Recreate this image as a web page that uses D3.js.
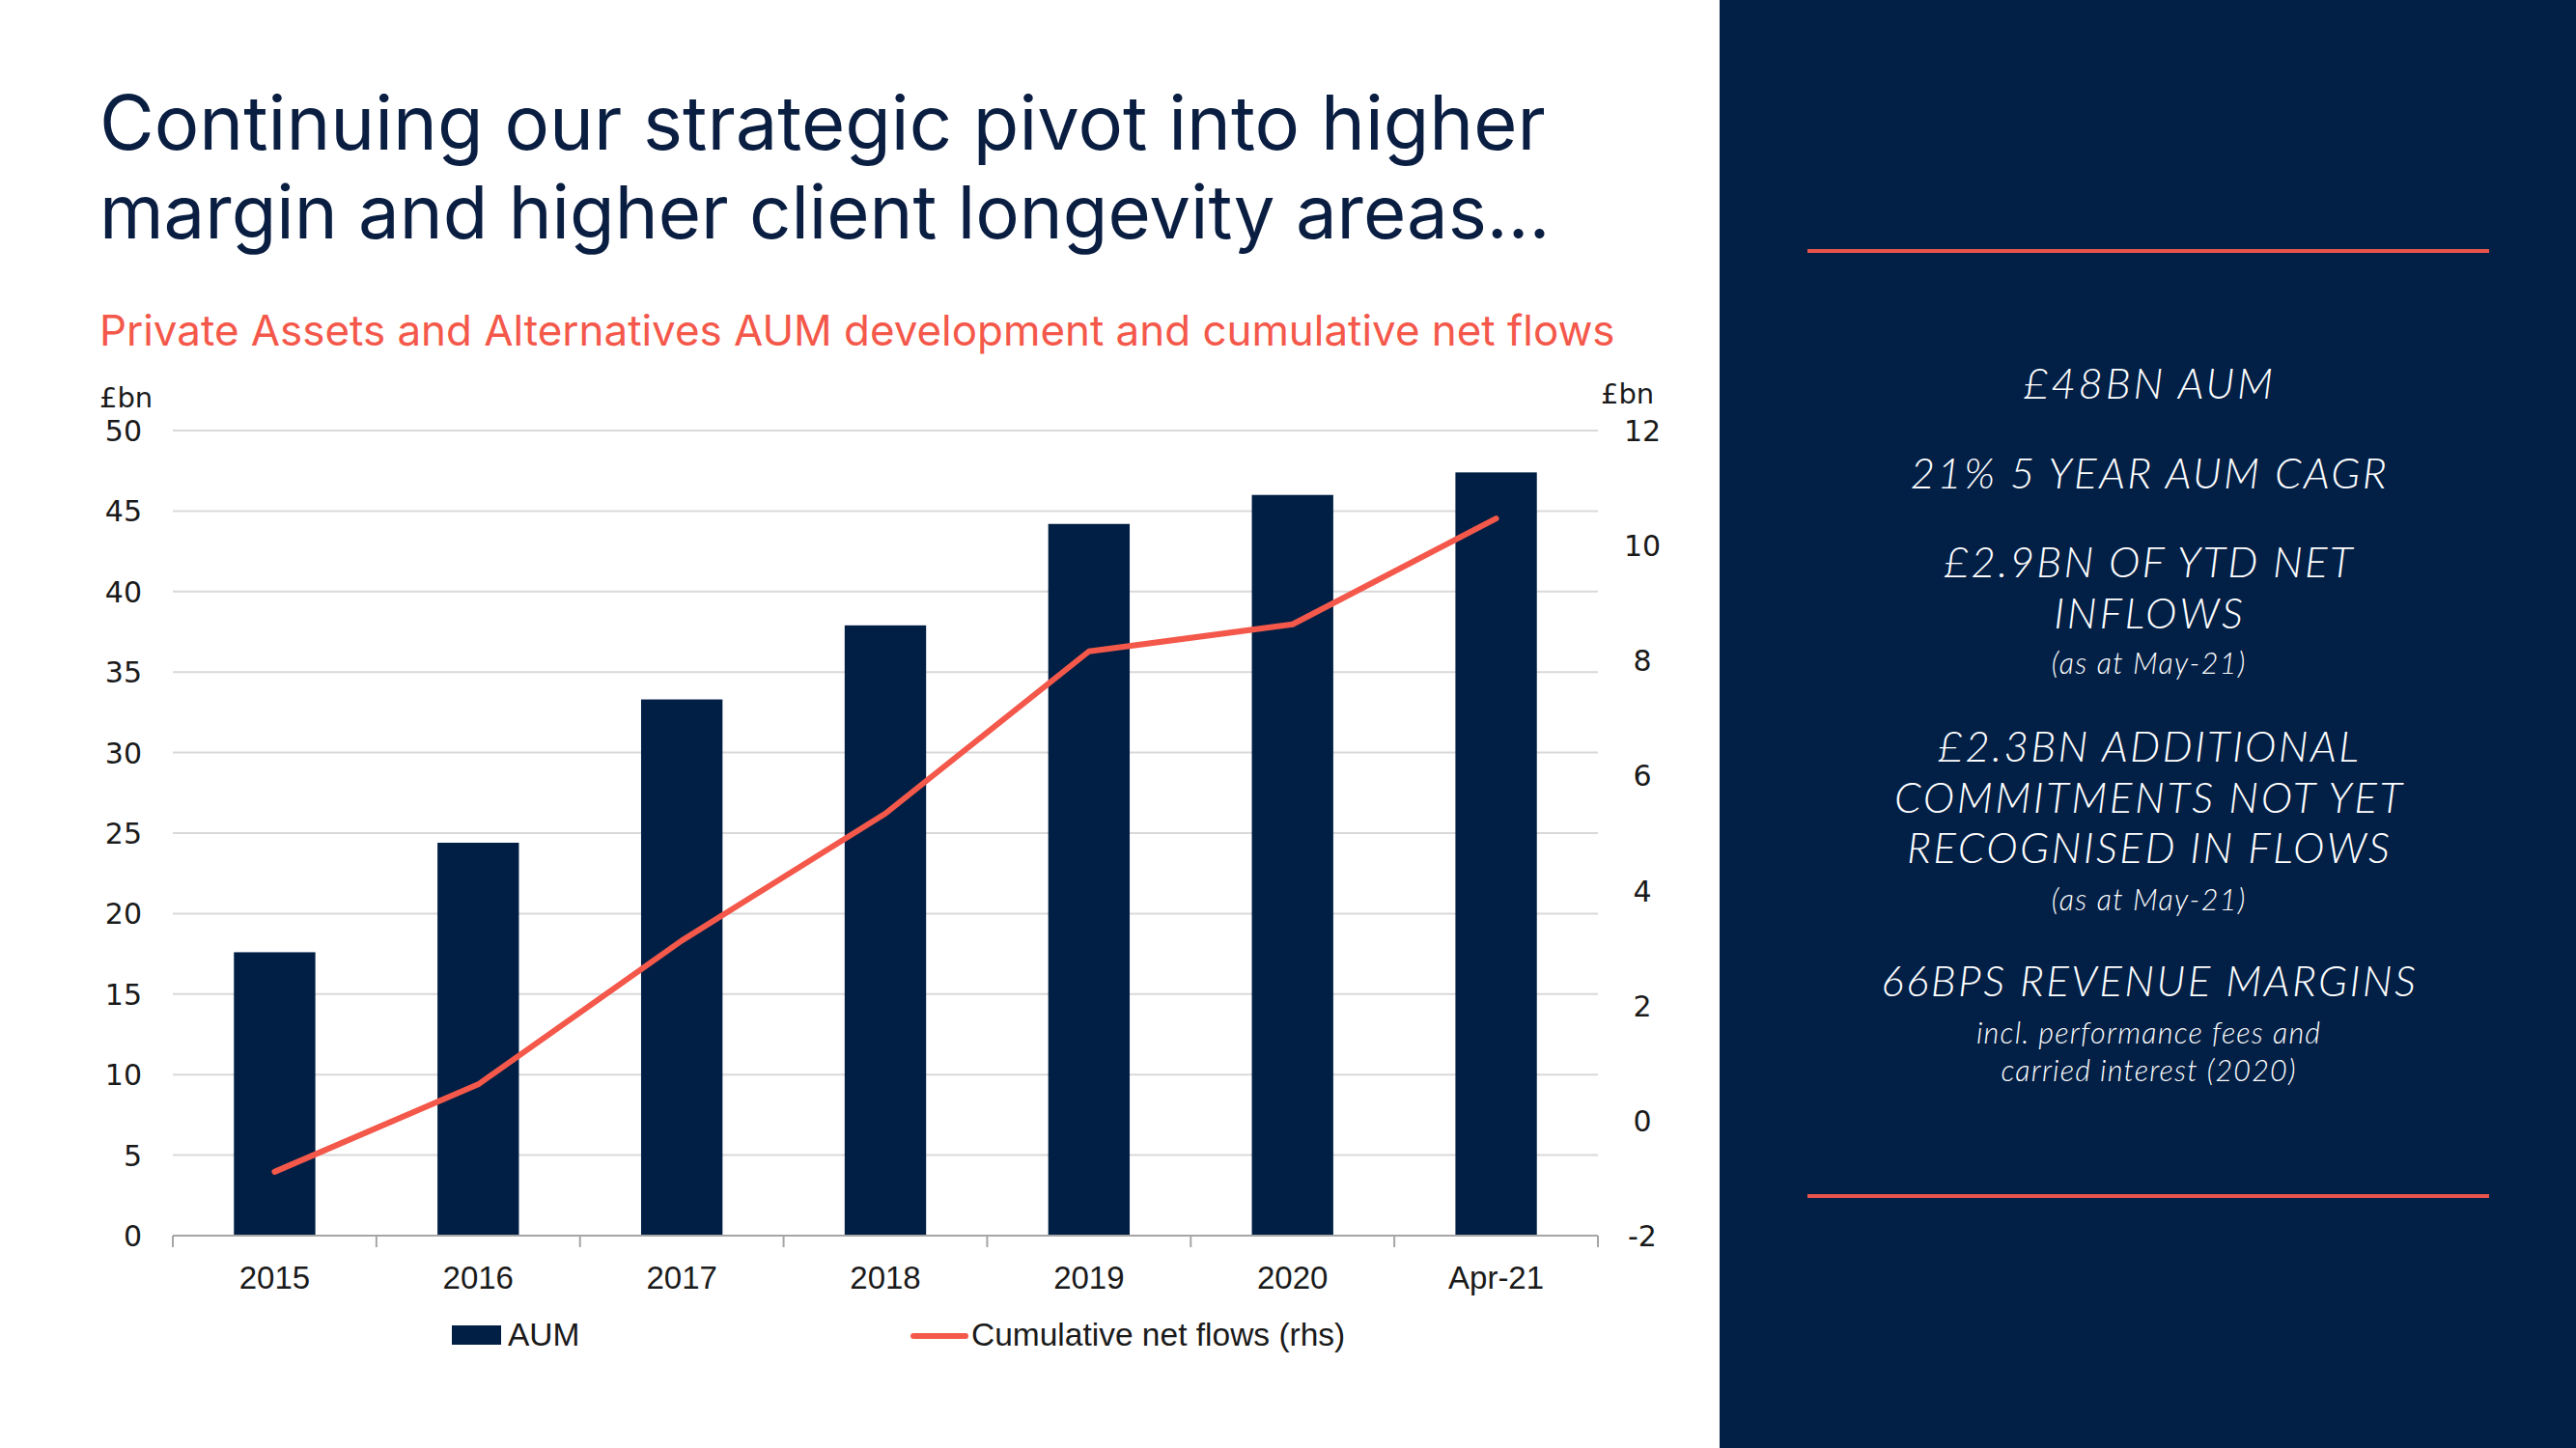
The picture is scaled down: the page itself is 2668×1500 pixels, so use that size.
<!DOCTYPE html>
<html><head><meta charset="utf-8">
<script src="https://cdn.jsdelivr.net/npm/d3@7"></script>
<style>html,body{margin:0;padding:0;background:#fff;}svg{display:block;}</style>
</head><body>
<script>
const categories = ["2015","2016","2017","2018","2019","2020","Apr-21"];
const aum = [17.6, 24.4, 33.3, 37.9, 44.2, 46.0, 47.4];
const netFlows = [-0.89, 0.63, 3.13, 5.34, 8.16, 8.63, 10.47];
const leftTicks = [0,5,10,15,20,25,30,35,40,45,50];
const rightTicks = [-2,0,2,4,6,8,10,12];
const titleLines = ["Continuing our strategic pivot into higher","margin and higher client longevity areas…"];
const subtitle = "Private Assets and Alternatives AUM development and cumulative net flows";
const panelLines = [
  {t:"£48BN AUM", big:true},
  {t:"21% 5 YEAR AUM CAGR", big:true},
  {t:"£2.9BN OF YTD NET", big:true},
  {t:"INFLOWS", big:true},
  {t:"(as at May-21)", big:false},
  {t:"£2.3BN ADDITIONAL", big:true},
  {t:"COMMITMENTS NOT YET", big:true},
  {t:"RECOGNISED IN FLOWS", big:true},
  {t:"(as at May-21)", big:false},
  {t:"66BPS REVENUE MARGINS", big:true},
  {t:"incl. performance fees and", big:false},
  {t:"carried interest (2020)", big:false}
];
const panelBaselines = [413,506,598,651,698,789,842,894,943,1032,1081,1120];

const W=2668,H=1500;
const navy="#011f44", coral="#f4584a";
const svg=d3.select("body").append("svg").attr("width",W).attr("height",H);
svg.append("rect").attr("width",W).attr("height",H).attr("fill","#fff");

function fitSize(sel, target){
  const w = sel.node().getComputedTextLength();
  const fs = +sel.attr("font-size");
  sel.attr("font-size", fs*target/w);
  return fs*target/w;
}

// title
const tl = svg.append("g");
const titleTargets=[1498,1503];
titleLines.forEach((s,i)=>{
  const t=tl.append("text").attr("x",103).attr("y",155+i*92).text(s)
    .attr("font-family","Inter, Lato, sans-serif").attr("font-size",74)
    .attr("fill","#0a1e42");
  fitSize(t,titleTargets[i]);
});
const st=svg.append("text").attr("x",103).attr("y",358).text(subtitle)
  .attr("font-family","Inter, Lato, sans-serif").attr("font-size",42)
  .attr("fill",coral);
fitSize(st,1570);

// scales
const x=d3.scaleBand().domain(categories).range([179,1655]).paddingInner(0.6).paddingOuter(0.3);
const yL=d3.scaleLinear().domain([0,50]).range([1280,446]);
const yR=d3.scaleLinear().domain([-2,12]).range([1280,446]);

// gridlines
svg.append("g").selectAll("line").data(leftTicks.filter(d=>d>0)).join("line")
  .attr("x1",179).attr("x2",1655).attr("y1",d=>yL(d)).attr("y2",d=>yL(d))
  .attr("stroke","#d9d9d9").attr("stroke-width",2);

// bars
svg.append("g").selectAll("rect").data(categories).join("rect")
  .attr("x",d=>x(d)).attr("width",x.bandwidth())
  .attr("y",(d,i)=>yL(aum[i])).attr("height",(d,i)=>yL(0)-yL(aum[i]))
  .attr("fill",navy);

// x axis
const axisG=svg.append("g");
axisG.append("line").attr("x1",179).attr("x2",1655).attr("y1",1280).attr("y2",1280)
  .attr("stroke","#a6a6a6").attr("stroke-width",2);
const bounds=categories.map(c=>x(c)-x.step()*x.paddingInner()/2).concat([1655]);
axisG.selectAll("line.tk").data(bounds).join("line").attr("class","tk")
  .attr("x1",d=>d).attr("x2",d=>d).attr("y1",1280).attr("y2",1292)
  .attr("stroke","#a6a6a6").attr("stroke-width",2);
axisG.selectAll("text").data(categories).join("text")
  .attr("x",d=>x(d)+x.bandwidth()/2).attr("y",1335).attr("text-anchor","middle")
  .attr("font-family","'Liberation Sans', Arial, sans-serif").attr("font-size",33)
  .attr("fill","#1a1a1a").text(d=>d);

// left axis labels
svg.append("g").selectAll("text").data(leftTicks).join("text")
  .attr("x",147).attr("y",d=>yL(d)+11).attr("text-anchor","end")
  .attr("font-family","'DejaVu Sans', sans-serif").attr("font-size",30)
  .attr("fill","#1a1a1a").text(d=>d);
svg.append("text").attr("x",103).attr("y",422).text("£bn")
  .attr("font-family","'DejaVu Sans', sans-serif").attr("font-size",29).attr("fill","#1a1a1a");
// right axis labels
svg.append("g").selectAll("text").data(rightTicks).join("text")
  .attr("x",1701).attr("y",d=>yR(d)+11).attr("text-anchor","middle")
  .attr("font-family","'DejaVu Sans', sans-serif").attr("font-size",30)
  .attr("fill","#1a1a1a").text(d=>d);
svg.append("text").attr("x",1658).attr("y",418).text("£bn")
  .attr("font-family","'DejaVu Sans', sans-serif").attr("font-size",29).attr("fill","#1a1a1a");

// line
const line=d3.line().x((d,i)=>x(categories[i])+x.bandwidth()/2).y(d=>yR(d));
svg.append("path").datum(netFlows).attr("d",line).attr("fill","none")
  .attr("stroke",coral).attr("stroke-width",6).attr("stroke-linejoin","round").attr("stroke-linecap","round");

// legend
const lg=svg.append("g");
lg.append("rect").attr("x",468).attr("y",1373).attr("width",51).attr("height",20).attr("fill",navy);
lg.append("text").attr("x",526).attr("y",1394).text("AUM")
  .attr("font-family","'Liberation Sans', Arial, sans-serif").attr("font-size",33.5).attr("fill","#1a1a1a");
lg.append("line").attr("x1",946).attr("x2",1000).attr("y1",1384).attr("y2",1384)
  .attr("stroke",coral).attr("stroke-width",6).attr("stroke-linecap","round");
lg.append("text").attr("x",1006).attr("y",1394).text("Cumulative net flows (rhs)")
  .attr("font-family","'Liberation Sans', Arial, sans-serif").attr("font-size",33.5).attr("fill","#1a1a1a");

// right panel
const p=svg.append("g");
p.append("rect").attr("x",1781).attr("y",0).attr("width",W-1781).attr("height",H).attr("fill","#021f46");
p.append("line").attr("x1",1872).attr("x2",2578).attr("y1",260).attr("y2",260).attr("stroke","#e8534b").attr("stroke-width",4);
p.append("line").attr("x1",1872).attr("x2",2578).attr("y1",1239).attr("y2",1239).attr("stroke","#e8534b").attr("stroke-width",4);
const pt=p.selectAll("text").data(panelLines).join("text")
  .attr("x",2225).attr("y",(d,i)=>panelBaselines[i]).attr("text-anchor","middle")
  .attr("font-family","Lato, 'Open Sans', sans-serif").attr("font-style","italic").attr("font-weight",300)
  .attr("font-size",d=>d.big?44:30.5).attr("fill","#fff").text(d=>d.t);
// the reference face is wider: keep glyph height, stretch spacing to the measured width
const k=493/pt.nodes()[1].getComputedTextLength();
pt.each(function(d){
  const w=this.getComputedTextLength();
  d3.select(this).attr("textLength",w*k).attr("lengthAdjust","spacing");
});
</script>
</body></html>
